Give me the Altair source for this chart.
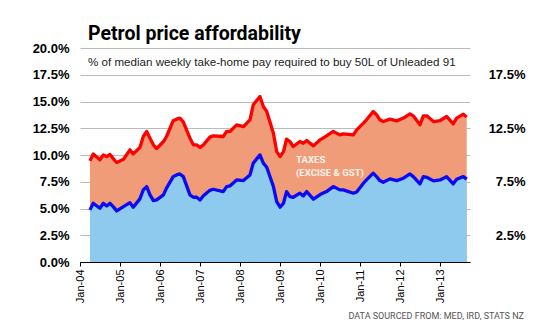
import altair as alt
import pandas as pd

# ---- data ----
months = [
    "2004-04", "2004-05", "2004-07", "2004-08", "2004-09", "2004-10", "2004-11", "2004-12",
    "2005-02", "2005-04", "2005-05", "2005-07", "2005-08", "2005-09", "2005-10", "2005-11", "2005-12",
    "2006-02", "2006-03", "2006-05", "2006-06", "2006-07", "2006-08", "2006-10", "2006-11", "2006-12",
    "2007-01", "2007-02", "2007-04", "2007-05", "2007-08", "2007-09", "2007-10", "2007-12",
    "2008-02", "2008-04", "2008-05", "2008-07", "2008-08", "2008-09", "2008-11", "2008-12",
    "2009-01", "2009-02", "2009-03", "2009-04", "2009-05", "2009-07", "2009-08", "2009-09", "2009-11",
    "2010-01", "2010-03", "2010-05", "2010-07", "2010-08", "2010-11", "2010-12",
    "2011-02", "2011-03", "2011-05", "2011-06", "2011-07", "2011-08", "2011-10", "2011-12",
    "2012-02", "2012-04", "2012-05", "2012-07", "2012-08", "2012-09", "2012-11",
    "2013-01", "2013-03", "2013-05", "2013-06", "2013-08", "2013-09",
]
total_pct = [
    9.45, 10.1, 9.55, 10.0, 9.85, 10.05, 9.64, 9.3,
    9.6, 10.48, 10.1, 10.7, 11.73, 12.2, 11.57, 10.95, 10.6,
    11.26, 11.73, 13.2, 13.35, 13.45, 13.1, 11.57, 10.95, 10.95,
    10.7, 10.95, 11.67, 11.79, 11.73, 12.2, 12.2, 12.82,
    12.66, 13.29, 14.69, 15.47, 14.53, 14.07, 12.04, 10.32,
    9.85, 10.32, 11.48, 11.26, 10.79, 11.26, 11.1, 11.35, 10.85,
    11.42, 11.79, 12.2, 11.88, 11.98, 11.88, 12.35,
    12.98, 13.29, 14.07, 13.76, 13.29, 13.13, 13.35, 13.19,
    13.45, 13.85, 13.66, 12.82, 13.66, 13.66, 13.13,
    13.22, 13.6, 12.91, 13.45, 13.82, 13.54,
]
pretax_pct = [
    4.87, 5.49, 5.02, 5.49, 5.24, 5.49, 5.15, 4.77,
    5.18, 5.55, 5.12, 5.9, 6.74, 7.05, 6.27, 5.74, 5.8,
    6.27, 6.9, 7.98, 8.14, 8.23, 7.98, 6.27, 6.05, 6.05,
    5.8, 6.2, 6.7, 6.8, 6.58, 7.05, 7.11, 7.67,
    7.61, 8.14, 9.24, 10.01, 9.24, 8.86, 7.05, 5.64,
    5.12, 5.49, 6.58, 6.11, 6.05, 6.43, 6.18, 6.58, 5.87,
    6.3, 6.58, 7.05, 6.74, 6.74, 6.43, 6.55,
    7.36, 7.67, 8.3, 7.98, 7.61, 7.45, 7.77, 7.61,
    7.83, 8.23, 7.98, 7.3, 7.98, 7.92, 7.58,
    7.67, 7.98, 7.3, 7.74, 7.98, 7.74,
]
left_ticks = [0, 2.5, 5, 7.5, 10, 12.5, 15, 17.5, 20]
right_ticks = [2.5, 7.5, 12.5, 17.5]
tick_years = list(range(2004, 2014))
x_start, x_end = "2004-01-01", "2013-10-01"

title_text = "Petrol price affordability"
subtitle_text = "% of median weekly take-home pay required to buy 50L of Unleaded 91"
note_text = ["TAXES", "(EXCISE & GST)"]
source_text = "DATA SOURCED FROM: MED, IRD, STATS NZ"

df = pd.DataFrame({"month": months, "total": total_pct, "pretax": pretax_pct})


def ms(s):
    return int(pd.Timestamp(s, tz="UTC").timestamp() * 1000)


FONT = "Liberation Sans"
NARROW = "Roboto"

x_enc = alt.X(
    "month:T",
    title=None,
    scale=alt.Scale(type="utc", domain=[ms(x_start), ms(x_end)]),
    axis=alt.Axis(
        values=[ms(f"{y}-01-01") for y in tick_years],
        format="%b-%y",
        labelAngle=-90,
        labelAlign="right",
        labelBaseline="middle",
        labelFont=FONT,
        labelFontSize=11,
        labelColor="black",
        labelPadding=3,
        tickSize=4,
        tickColor="black",
        domainColor="black",
        grid=False,
        zindex=1,
    ),
)

yscale = alt.Scale(domain=[0, 20], nice=False, zero=True)

base = alt.Chart(df)

area_total = base.mark_area(color="#F09C78", opacity=1).encode(
    x=x_enc,
    y=alt.Y(
        "total:Q",
        title=None,
        scale=yscale,
        axis=alt.Axis(
            orient="left",
            values=left_ticks,
            labelExpr="format(datum.value, '.1f') + '%'",
            grid=True,
            gridColor="#BBBBBB",
            gridWidth=1,
            domain=False,
            ticks=False,
            tickSize=0,
            labelFont=FONT,
            labelFontWeight="bold",
            labelFontSize=13,
            labelColor="black",
            labelPadding=11,
        ),
    ),
)

area_pretax = base.mark_area(color="#8DCAEE", opacity=1).encode(
    x=x_enc, y=alt.Y("pretax:Q", scale=yscale, axis=None)
)

line_total = base.mark_line(color="#FF0000", strokeWidth=3.3, strokeJoin="round").encode(
    x=x_enc,
    y=alt.Y(
        "total:Q",
        title=None,
        scale=yscale,
        axis=alt.Axis(
            orient="right",
            values=right_ticks,
            labelExpr="format(datum.value, '.1f') + '%'",
            grid=False,
            domain=False,
            ticks=False,
            tickSize=0,
            labelAlign="right",
            labelFont=FONT,
            labelFontWeight="bold",
            labelFontSize=13,
            labelColor="black",
            labelPadding=55,
        ),
    ),
)

line_pretax = base.mark_line(color="#0A0AF5", strokeWidth=3.3, strokeJoin="round").encode(
    x=x_enc, y=alt.Y("pretax:Q", scale=yscale, axis=None)
)

title = alt.Chart(pd.DataFrame({"t": [title_text]})).mark_text(
    font=NARROW, fontWeight="bold", fontSize=19.5, align="left",
    baseline="alphabetic", color="black"
).encode(x=alt.value(8), y=alt.value(-8), text="t:N")

subtitle = alt.Chart(pd.DataFrame({"t": [subtitle_text]})).mark_text(
    font=FONT, fontSize=11.6, align="left", baseline="alphabetic", color="#222222"
).encode(x=alt.value(8), y=alt.value(18), text="t:N")

note = alt.Chart(pd.DataFrame({"t": [note_text]})).mark_text(
    font=NARROW, fontWeight="bold", fontSize=9.6, align="left",
    baseline="middle", color="#FFF2EA", lineHeight=12.7
).encode(x=alt.value(216), y=alt.value(112), text="t")

source = alt.Chart(pd.DataFrame({"t": [source_text]})).mark_text(
    font=NARROW, fontSize=9, align="right", baseline="alphabetic",
    color="#555555"
).encode(x=alt.value(444), y=alt.value(271), text="t:N")

chart = (
    alt.layer(area_total, area_pretax, line_total, line_pretax, title, subtitle, note, source)
    .resolve_axis(y="independent")
    .properties(
        width=390,
        height=214,
        autosize=alt.AutoSizeParams(type="none"),
        padding={"left": 80, "top": 48, "right": 80, "bottom": 63},
        background="white",
    )
    .configure_view(stroke=None)
)

chart.save("out.html", embed_options={"renderer": "svg", "actions": False})
